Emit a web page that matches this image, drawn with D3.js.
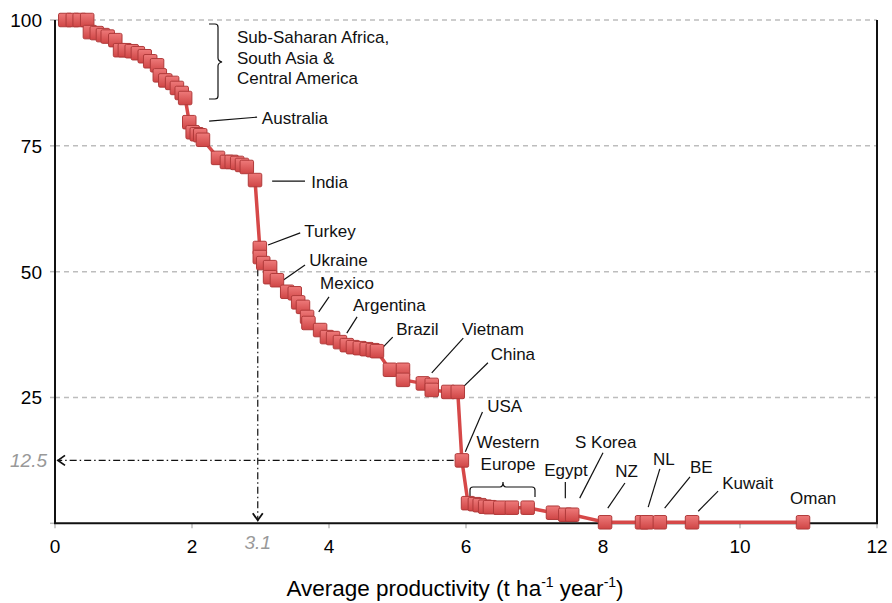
<!DOCTYPE html>
<html>
<head>
<meta charset="utf-8">
<script src="https://cdn.jsdelivr.net/npm/d3@7"></script>
<style>
  body { margin: 0; background: #fff; }
  text { font-family: "Liberation Sans", Arial, Helvetica, sans-serif; }
</style>
</head>
<body>
<script>
// cumulative curve: productivity (t/ha/yr) vs share (%)
var productivity = [0.15, 0.26, 0.36, 0.47, 0.51, 0.61, 0.70, 0.77, 0.88, 0.95, 1.02, 1.12, 1.21, 1.31, 1.39, 1.49,
    1.53, 1.61, 1.71, 1.78, 1.85, 1.90,
    1.96, 2.01, 2.07, 2.12, 2.16, 2.38, 2.51, 2.58, 2.66, 2.73, 2.80, 2.92,
    2.99, 2.99, 3.04, 3.14, 3.14, 3.24, 3.39, 3.50, 3.55, 3.62, 3.68, 3.70, 3.87, 3.97, 4.06, 4.16, 4.26, 4.35,
    4.45, 4.55, 4.64, 4.70,
    4.89, 5.08, 5.08, 5.37, 5.50, 5.50, 5.74, 5.88,
    5.94, 6.03, 6.13, 6.20, 6.28, 6.35, 6.50, 6.67, 6.90, 7.27, 7.45, 7.55,
    8.03, 8.57, 8.64, 8.83, 9.30, 10.92];
var share = [100, 100, 100, 100, 97.6, 97.4, 97.0, 96.7, 96.0, 94.0, 94.0, 93.8, 93.4, 92.8, 91.8, 91.0,
    89.0, 88.0, 87.5, 86.5, 85.5, 84.5,
    79.7, 77.7, 77.3, 77.1, 76.2, 72.6, 71.8, 71.8, 71.6, 71.2, 70.8, 68.2,
    54.7, 52.9, 51.7, 50.9, 48.9, 48.3, 46.0, 45.7, 43.9, 43.0, 41.0, 39.8, 38.4, 37.0, 36.8, 36.0, 35.4, 35.0,
    34.8, 34.6, 34.4, 34.2,
    30.5, 30.5, 28.5, 27.8, 27.5, 26.5, 26.1, 26.1,
    12.5, 4.0, 3.8, 3.6, 3.3, 3.2, 3.1, 3.1, 3.1, 2.1, 1.7, 1.7,
    0.2, 0.2, 0.2, 0.2, 0.2, 0.2];

var xTicks = [0, 2, 4, 6, 8, 10, 12];
var yTicks = [25, 50, 75, 100];
var markX = 2.96, markXLabel = "3.1";
var markY = 12.5, markYLabel = "12.5";

// country labels
var labelText = ["Australia", "India", "Turkey", "Ukraine", "Mexico", "Argentina", "Brazil", "Vietnam", "China",
    "USA", "S Korea", "NZ", "NL", "BE", "Kuwait", "Oman", "Egypt"];

window.onload = function(){
    var w = 892, h = 603;
    var svg = d3.select("body").append("svg")
        .attr("width", w)
        .attr("height", h);

    var x = d3.scaleLinear().domain([0, 12]).range([55, 877]);
    var y = d3.scaleLinear().domain([0, 100]).range([523.3, 20]);

    var defs = svg.append("defs");
    var grad = defs.append("linearGradient")
        .attr("id", "sq").attr("x1", 0).attr("y1", 0).attr("x2", 0).attr("y2", 1);
    grad.append("stop").attr("offset", "0%").attr("stop-color", "#ee7a7a");
    grad.append("stop").attr("offset", "100%").attr("stop-color", "#cf4545");

    // dashed gridlines
    svg.selectAll(".grid")
        .data(yTicks)
        .enter().append("line")
        .attr("class", "grid")
        .attr("x1", x(0)).attr("x2", x(12))
        .attr("y1", function(d){ return y(d); })
        .attr("y2", function(d){ return y(d); })
        .style("stroke", "#bdbdbd")
        .style("stroke-width", 1.5)
        .style("stroke-dasharray", "5,4");

    // small grey ticks
    svg.selectAll(".xtick")
        .data(xTicks)
        .enter().append("line")
        .attr("x1", function(d){ return x(d); })
        .attr("x2", function(d){ return x(d); })
        .attr("y1", y(0)).attr("y2", y(0) + 5)
        .style("stroke", "#bbb").style("stroke-width", 1.5);
    svg.selectAll(".ytick")
        .data([0].concat(yTicks))
        .enter().append("line")
        .attr("x1", x(0) - 5).attr("x2", x(0))
        .attr("y1", function(d){ return y(d); })
        .attr("y2", function(d){ return y(d); })
        .style("stroke", "#bbb").style("stroke-width", 1.5);

    // frame: left, bottom, right
    svg.append("path")
        .attr("d", "M" + x(0) + "," + y(100) + "V" + y(0) + "H" + x(12) + "V" + y(100))
        .style("fill", "none")
        .style("stroke", "#111")
        .style("stroke-width", 2);

    // tick labels
    svg.selectAll(".xlab")
        .data(xTicks)
        .enter().append("text")
        .attr("x", function(d){ return x(d); })
        .attr("y", 553)
        .attr("text-anchor", "middle")
        .style("font-size", "19px")
        .text(function(d){ return d; });
    svg.selectAll(".ylab")
        .data(yTicks)
        .enter().append("text")
        .attr("x", 42)
        .attr("y", function(d){ return y(d) + 7; })
        .attr("text-anchor", "end")
        .style("font-size", "19px")
        .text(function(d){ return d; });

    // axis title
    var title = svg.append("text")
        .attr("x", 455).attr("y", 596)
        .attr("text-anchor", "middle")
        .style("font-size", "22.5px");
    title.append("tspan").text("Average productivity (t ha");
    title.append("tspan").attr("dy", -9).style("font-size", "14px").text("-1");
    title.append("tspan").attr("dy", 9).text(" year");
    title.append("tspan").attr("dy", -9).style("font-size", "14px").text("-1");
    title.append("tspan").attr("dy", 9).text(")");

    // dash-dot guide lines
    var guide = svg.append("g")
        .style("fill", "none")
        .style("stroke", "#111")
        .style("stroke-width", 1.2);
    guide.append("line")
        .attr("x1", x(5.82)).attr("x2", x(0) + 2)
        .attr("y1", y(markY)).attr("y2", y(markY))
        .style("stroke-dasharray", "7,3,1.5,3");
    guide.append("polyline")
        .attr("points", [[x(0) + 10, y(markY) - 5], [x(0) + 3, y(markY)], [x(0) + 10, y(markY) + 5]].join(" "))
        .style("stroke-width", 1.8);
    guide.append("line")
        .attr("x1", x(markX)).attr("x2", x(markX))
        .attr("y1", y(50.5)).attr("y2", y(0) - 2)
        .style("stroke-dasharray", "7,3,1.5,3");
    guide.append("polyline")
        .attr("points", [[x(markX) - 5, y(0) - 10], [x(markX), y(0) - 3], [x(markX) + 5, y(0) - 10]].join(" "))
        .style("stroke-width", 1.8);

    svg.append("text")
        .attr("x", x(0) - 8).attr("y", y(markY) + 7)
        .attr("text-anchor", "end")
        .style("font-size", "19px").style("font-style", "italic").style("fill", "#999")
        .text(markYLabel);
    svg.append("text")
        .attr("x", x(markX)).attr("y", 549)
        .attr("text-anchor", "middle")
        .style("font-size", "19px").style("font-style", "italic").style("fill", "#999")
        .text(markXLabel);

    // annotations
    var ann = svg.append("g").style("font-size", "17px").style("fill", "#111");
    var lead = svg.append("g").style("stroke", "#111").style("stroke-width", 1.2).style("fill", "none");

    // [text pos x, y, anchor, leader x1, y1, x2, y2]
    var place = [
        [3.02, 80.6, "start", 2.25, 79.9, 2.95, 80.7],
        [3.74, 67.8, "start", 3.17, 68.0, 3.65, 68.0],
        [3.64, 58.1, "start", 3.11, 55.3, 3.58, 57.7],
        [3.71, 52.3, "start", 3.33, 48.3, 3.65, 51.3],
        [3.87, 47.7, "start", 3.85, 42.0, 4.00, 45.0],
        [4.35, 43.4, "start", 4.26, 37.8, 4.41, 41.0],
        [4.98, 38.6, "start", 4.72, 34.0, 4.93, 37.0],
        [5.94, 38.6, "start", 5.50, 29.9, 5.96, 36.8],
        [6.36, 33.6, "start", 5.96, 27.1, 6.32, 31.9],
        [6.31, 23.3, "start", 5.99, 14.2, 6.24, 22.1],
        [8.04, 16.2, "middle", 7.66, 5.0, 8.00, 14.0],
        [8.18, 10.3, "start", 8.07, 3.0, 8.32, 8.0],
        [8.89, 12.8, "middle", 8.66, 3.2, 8.83, 10.8],
        [9.27, 11.2, "start", 8.90, 3.0, 9.27, 9.2],
        [9.74, 8.0, "start", 9.39, 2.4, 9.68, 6.4],
        [10.73, 5.0, "start", null, null, null, null],
        [7.46, 10.6, "middle", 7.45, 8.2, 7.45, 5.0]
    ];
    labelText.forEach(function(t, i){
        var p = place[i];
        ann.append("text")
            .attr("x", x(p[0])).attr("y", y(p[1]) + 6)
            .attr("text-anchor", p[2])
            .text(t);
        if (p[3] !== null) {
            lead.append("line")
                .attr("x1", x(p[3])).attr("y1", y(p[4]))
                .attr("x2", x(p[5])).attr("y2", y(p[6]));
        }
    });

    // Western Europe + brace
    ann.append("text").attr("x", 508).attr("y", 448).attr("text-anchor", "middle").text("Western");
    ann.append("text").attr("x", 508).attr("y", 470).attr("text-anchor", "middle").text("Europe");
    lead.append("path")
        .attr("d", "M470,497 V490 Q470,487 473,487 H500 Q503,487 503,482 Q503,487 506,487 H532 Q535,487 535,490 V497");

    // Sub-Saharan brace and text
    lead.append("path")
        .attr("d", "M209,24 H215 Q218,24 218,27 V58 Q218,61 222,62 Q218,63 218,66 V96 Q218,99 215,99 H209");
    ["Sub-Saharan Africa,", "South Asia &", "Central America"].forEach(function(t, i){
        ann.append("text").attr("x", 237).attr("y", 43 + i * 20.5).text(t);
    });

    // curve
    var pts = productivity.map(function(d, i){ return [d, share[i]]; });
    var line = d3.line()
        .x(function(d){ return x(d[0]); })
        .y(function(d){ return y(d[1]); });
    svg.append("path")
        .datum(pts)
        .attr("d", line)
        .style("fill", "none")
        .style("stroke", "#d64848")
        .style("stroke-width", 3.5);

    var s = 13.5;
    svg.selectAll(".sq")
        .data(pts)
        .enter().append("rect")
        .attr("class", "sq")
        .attr("x", function(d){ return x(d[0]) - s / 2; })
        .attr("y", function(d){ return y(d[1]) - s / 2; })
        .attr("width", s).attr("height", s)
        .attr("rx", 1.5)
        .style("fill", "url(#sq)")
        .style("stroke", "#b03a3a")
        .style("stroke-width", 1);
};
</script>
</body>
</html>
